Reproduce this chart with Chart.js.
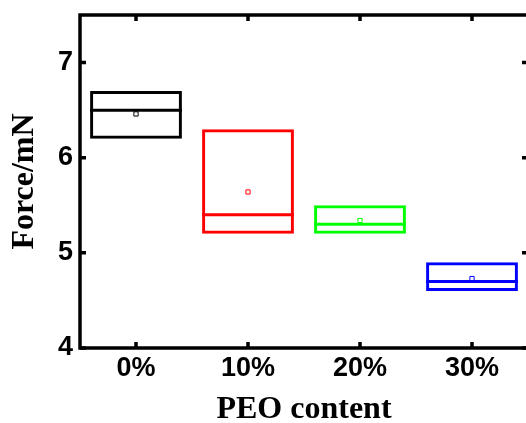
<!DOCTYPE html>
<html><head><meta charset="utf-8">
<script src="https://cdn.jsdelivr.net/npm/chart.js@4.4.1/dist/chart.umd.min.js"></script>
<style>html,body{margin:0;padding:0;overflow:hidden;background:#fff}</style></head>
<body><canvas id="c" width="532" height="423" style="display:block;width:532px;height:423px"></canvas>
<script>
const categories = ['0%', '10%', '20%', '30%'];
const q1 = [6.2, 5.2, 5.2, 4.6];
const q3 = [6.7, 6.3, 5.5, 4.9];
const medians = [6.5, 5.4, 5.3, 4.7];
const means = [6.46, 5.64, 5.34, 4.73];
const colors = ['#000000', '#ff0000', '#00ff00', '#0000ff'];
const yTicks = [4, 5, 6, 7];
const yMin = 4, yMax = 7.5;

const framePlugin = {
  id: 'frame',
  afterDatasetsDraw(chart) {
    const ctx = chart.ctx, ys = chart.scales.y;
    const meta = chart.getDatasetMeta(0);
    ctx.save();
    ctx.lineWidth = 3;
    meta.data.forEach((el, i) => {
      const y = ys.getPixelForValue(medians[i]);
      ctx.strokeStyle = colors[i];
      ctx.beginPath();
      ctx.moveTo(el.x - el.width / 2, y);
      ctx.lineTo(el.x + el.width / 2, y);
      ctx.stroke();
    });
    ctx.restore();
  },
  afterDraw(chart) {
    const ctx = chart.ctx, a = chart.chartArea, xs = chart.scales.x, ys = chart.scales.y;
    ctx.save();
    ctx.strokeStyle = '#000';
    ctx.lineWidth = 3.5;
    ctx.strokeRect(a.left, a.top, a.right - a.left, a.bottom - a.top);
    const L = 6;
    ctx.beginPath();
    yTicks.forEach(v => {
      const y = ys.getPixelForValue(v);
      ctx.moveTo(a.left, y); ctx.lineTo(a.left + L, y);
      ctx.moveTo(a.right, y); ctx.lineTo(a.right - L, y);
    });
    categories.forEach((c, i) => {
      const x = xs.getPixelForValue(i);
      ctx.moveTo(x, a.bottom); ctx.lineTo(x, a.bottom - L);
      ctx.moveTo(x, a.top); ctx.lineTo(x, a.top + L);
    });
    ctx.stroke();
    ctx.restore();
  }
};

const tickFont = { family: '"Liberation Sans", Arial, sans-serif', size: 27, weight: 'bold', lineHeight: 1.2 };
const titleFont = { family: '"Liberation Serif", "Times New Roman", serif', size: 32, weight: 'bold' };

new Chart(document.getElementById('c'), {
  type: 'bar',
  data: {
    labels: categories,
    datasets: [
      {
        type: 'bar',
        data: q1.map((v, i) => [v, q3[i]]),
        backgroundColor: 'rgba(0,0,0,0)',
        borderColor: colors,
        borderWidth: 3,
        borderSkipped: false,
        barPercentage: 0.82,
        categoryPercentage: 1
      },
      {
        type: 'line',
        data: means,
        showLine: false,
        pointStyle: 'rect',
        pointRadius: 3,
        pointHoverRadius: 3,
        pointBorderWidth: 1,
        pointBorderColor: colors,
        pointBackgroundColor: 'rgba(255,255,255,0)'
      }
    ]
  },
  options: {
    responsive: false,
    animation: false,
    layout: { autoPadding: false, padding: { top: 15, right: 4, left: 0, bottom: 0 } },
    plugins: { legend: { display: false }, tooltip: { enabled: false } },
    scales: {
      x: {
        type: 'category',
        offset: true,
        grid: { display: false, drawTicks: false },
        border: { display: false },
        ticks: { color: '#000', font: tickFont, padding: 4, maxRotation: 0 },
        title: { display: true, text: 'PEO content', color: '#000', font: Object.assign({ lineHeight: 0.8 }, titleFont), padding: { top: 0, bottom: 0 } },
        afterFit(s) { s.height = 75; s.paddingLeft = 0; s.paddingRight = 0; }
      },
      y: {
        type: 'linear',
        min: yMin,
        max: yMax,
        grid: { display: false, drawTicks: false },
        border: { display: false },
        ticks: { color: '#000', font: tickFont, padding: 7 },
        afterBuildTicks(s) { s.ticks = yTicks.map(v => ({ value: v })); },
        title: { display: true, text: 'Force/mN', color: '#000', font: Object.assign({ lineHeight: 1.2 }, titleFont), padding: { top: 6, bottom: 0 } },
        afterFit(s) { s.width = 80; s.paddingTop = 0; s.paddingBottom = 0; }
      }
    }
  },
  plugins: [framePlugin]
});
</script>
</body></html>
